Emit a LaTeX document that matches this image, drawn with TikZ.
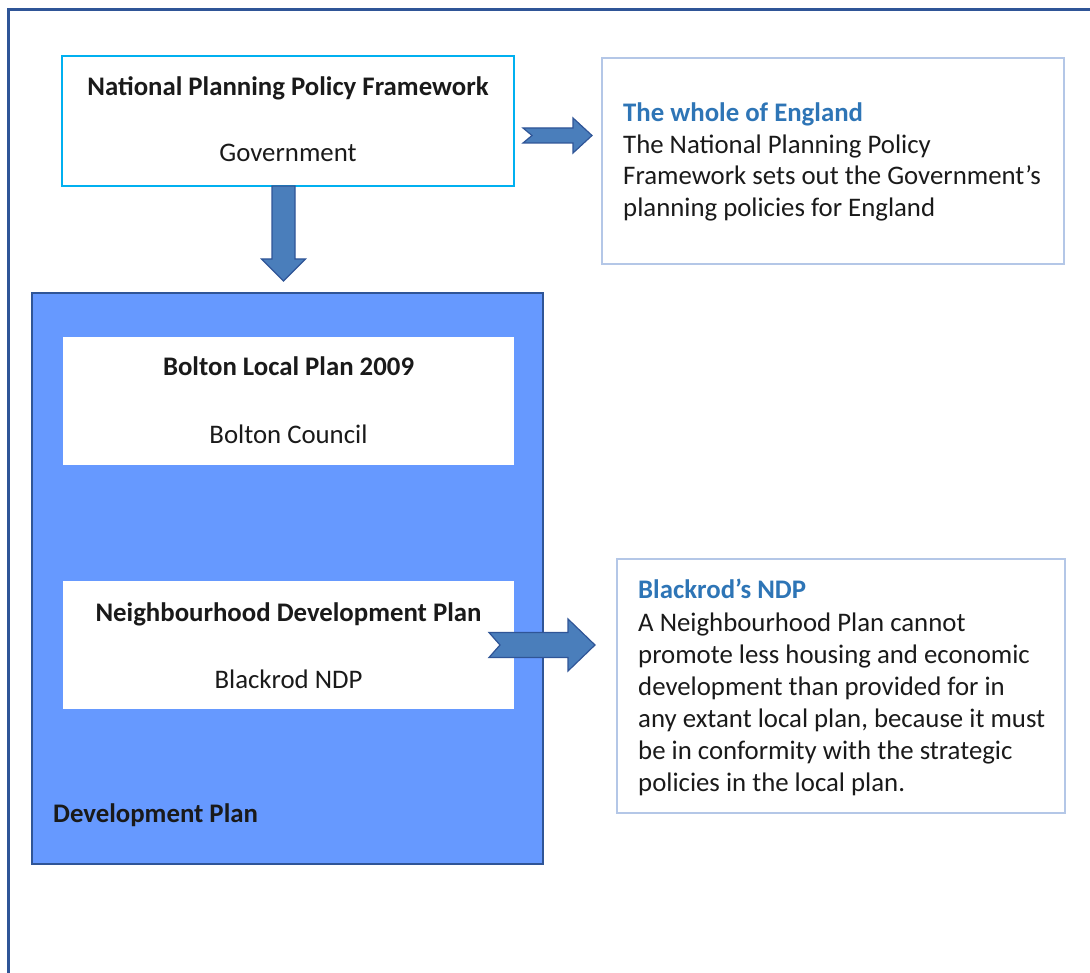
\documentclass[tikz,border=0pt]{standalone}
\usepackage{fontspec}
\setmainfont{Carlito}
\usetikzlibrary{calc}
\definecolor{frameblue}{HTML}{2F5597}
\definecolor{cyanbox}{HTML}{00B0F0}
\definecolor{lightbox}{HTML}{B4C7E7}
\definecolor{devfill}{HTML}{6699FF}
\definecolor{arrowfill}{HTML}{4A7EBB}
\definecolor{arrowline}{HTML}{2F5597}
\definecolor{titleblue}{HTML}{2E75B6}
\definecolor{txt}{HTML}{1A1A1A}
\begin{document}
\begin{tikzpicture}[x=1pt,y=-1pt,
  boxshape/.style={rectangle, inner sep=0, outer sep=0},
  line/.style={anchor=base west, inner sep=0, text=txt, font=\fontsize{26.8}{32}\selectfont},
  cline/.style={anchor=base, inner sep=0, text=txt, font=\fontsize{26.8}{32}\selectfont},
  bline/.style={cline, font=\fontsize{26.8}{32}\selectfont\bfseries},
  tline/.style={line, text=titleblue, font=\fontsize{26.8}{32}\selectfont\bfseries},
  blockarrow/.style={fill=arrowfill, draw=arrowline, line width=1.2, line join=miter}]
\useasboundingbox (0,0) rectangle (1090,973);
% outer frame (only left and top edges visible)
\draw[frameblue, line width=3] (8,985) -- (8,10) -- (1100,10);

% NPPF box
\node[boxshape, draw=cyanbox, line width=2.8, minimum width=452, minimum height=130] (nppf) at (288,121) {};
\node[bline] (nppft) at (288,96) {National Planning Policy Framework};
\node[cline] (nppfs) at (288,162) {Government};

% top right box
\node[boxshape, draw=lightbox, line width=2.8, minimum width=462, minimum height=206] (eng) at (833,161) {};
\node[tline] (engt) at (623,122) {The whole of England};
\node[line] (eng1) at (623,153.5) {The National Planning Policy};
\node[line] (eng2) at (623,185) {Framework sets out the Government’s};
\node[line] (eng3) at (623,216.5) {planning policies for England};

% development plan box
\node[boxshape, draw=frameblue, fill=devfill, line width=2.8, minimum width=511, minimum height=571] (dev) at (287.5,578.5) {};
\node[boxshape, fill=white, minimum width=451, minimum height=128] (bolton) at (288.5,401) {};
\node[bline] (boltont) at (288.5,376) {Bolton Local Plan 2009};
\node[cline] (boltons) at (288.5,443) {Bolton Council};
\node[boxshape, fill=white, minimum width=451, minimum height=128] (ndp) at (288.5,645) {};
\node[bline] (ndpt) at (288.5,621) {Neighbourhood Development Plan};
\node[cline] (ndps) at (288.5,688) {Blackrod NDP};
\node[anchor=base west, inner sep=0, text=txt, font=\fontsize{26.8}{32}\selectfont\bfseries] (devt) at (53,822) {Development Plan};

% lower right box
\node[boxshape, draw=lightbox, line width=2.8, minimum width=448, minimum height=254] (bndp) at (841,686) {};
\node[tline] (bndpt) at (638,598.5) {Blackrod’s NDP};
\node[line] (b1) at (638,631) {A Neighbourhood Plan cannot};
\node[line] (b2) at (638,663) {promote less housing and economic};
\node[line] (b3) at (638,695) {development than provided for in};
\node[line] (b4) at (638,727) {any extant local plan, because it must};
\node[line] (b5) at (638,759) {be in conformity with the strategic};
\node[line] (b6) at (638,791) {policies in the local plan.};

% arrows
\coordinate (d0) at ($(nppf.south)+(-4.5,0)$);
\coordinate (d1) at ($(dev.north)+(-4,-12)$);
\draw[blockarrow] ($(d0)+(-11.5,0)$) -- ($(d0)+(11.5,0)$) -- ($(d1)+(11.5,-22)$) -- ($(d1)+(22,-22)$) -- (d1) -- ($(d1)+(-22,-22)$) -- ($(d1)+(-11.5,-22)$) -- cycle;

\coordinate (r0) at (523,135.5);
\coordinate (r1) at (592,135.5);
\draw[blockarrow] ($(r0)+(0,-7.5)$) -- ($(r1)+(-19,-7.5)$) -- ($(r1)+(-19,-17.5)$) -- (r1) -- ($(r1)+(-19,17.5)$) -- ($(r1)+(-19,7.5)$) -- ($(r0)+(0,7.5)$) -- ($(r0)+(9,0)$) -- cycle;

\coordinate (s0) at (489,645);
\coordinate (s1) at (595,645);
\draw[blockarrow] ($(s0)+(0,-12.5)$) -- ($(s1)+(-27,-12.5)$) -- ($(s1)+(-27,-26)$) -- (s1) -- ($(s1)+(-27,26)$) -- ($(s1)+(-27,12.5)$) -- ($(s0)+(0,12.5)$) -- ($(s0)+(11,0)$) -- cycle;
\end{tikzpicture}
\end{document}
